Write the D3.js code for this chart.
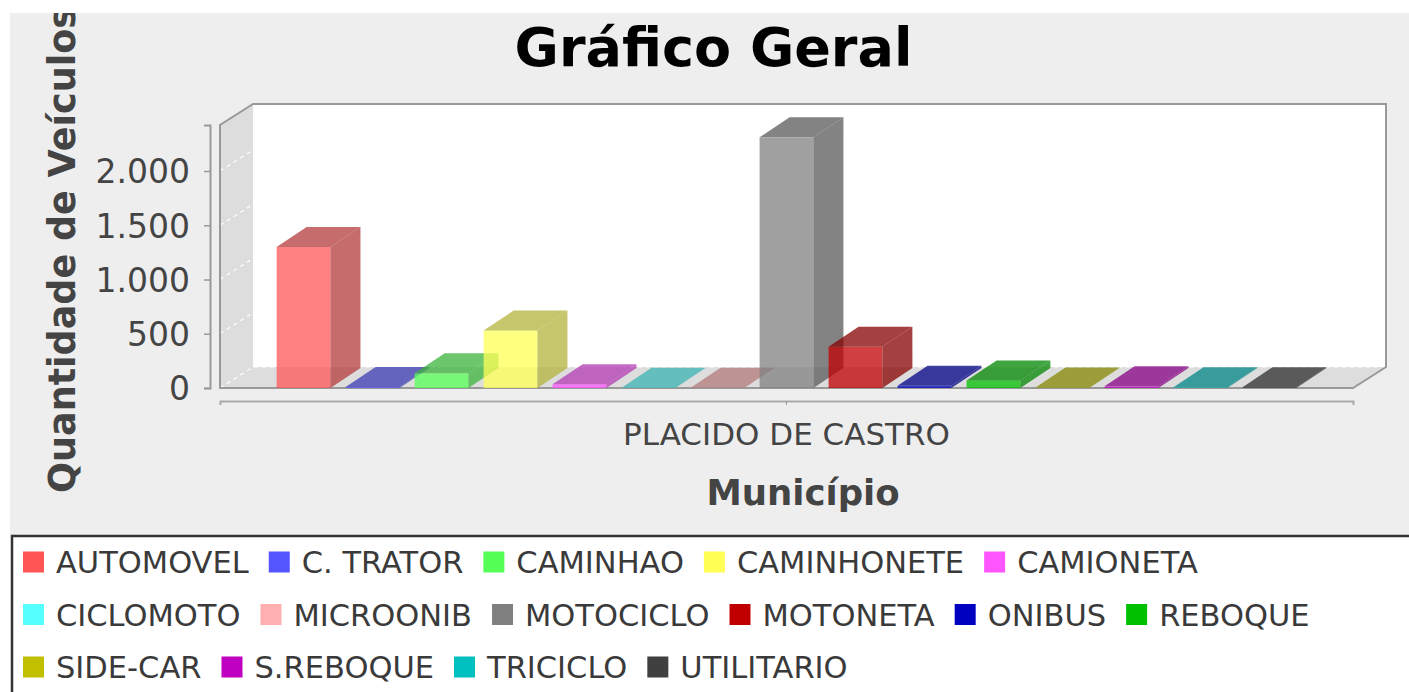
<!DOCTYPE html>
<html>
<head>
<meta charset="utf-8">
<script src="https://cdn.jsdelivr.net/npm/d3@7"></script>
<style>
  html, body { margin: 0; padding: 0; background: #ffffff; }
  svg { display: block; font-family: "DejaVu Sans", sans-serif; }
</style>
</head>
<body>
<script>
// data
const categories = ["PLACIDO DE CASTRO"];
const seriesNames = ["AUTOMOVEL", "C. TRATOR", "CAMINHAO", "CAMINHONETE", "CAMIONETA",
  "CICLOMOTO", "MICROONIB", "MOTOCICLO", "MOTONETA", "ONIBUS", "REBOQUE",
  "SIDE-CAR", "S.REBOQUE", "TRICICLO", "UTILITARIO"];
const seriesValues = [1300, 10, 135, 530, 35, 3, 2, 2310, 380, 20, 70, 4, 15, 6, 8];
const yTicks = [0, 500, 1000, 1500, 2000];
const yMax = 2424;
const palette = ["#ff5555", "#5555ff", "#55ff55", "#ffff55", "#ff55ff", "#55ffff", "#ffafaf",
  "#808080", "#c00000", "#0000c0", "#00c000", "#c0c000", "#c000c0", "#00c0c0", "#404040"];

const W = 1409, H = 692;
// front face of the plot, plus depth offsets of walls and bars
const plotL = 220, plotR = 1353, plotT = 125, plotB = 388;
const wdx = 33, wdy = -21, bdx = 30, bdy = -20;

const svg = d3.select("body").append("svg")
  .attr("width", W).attr("height", H);

svg.append("defs").append("clipPath").attr("id", "chartClip")
  .append("rect").attr("x", 10).attr("y", 13).attr("width", W - 10).attr("height", 522);

const chart = svg.append("g").attr("clip-path", "url(#chartClip)");
chart.append("rect").attr("x", 10).attr("y", 13).attr("width", W - 10).attr("height", 522)
  .attr("fill", "#eeeeee");

// scales
const y = d3.scaleLinear().domain([0, yMax]).range([plotB, plotT]);
const xCat = d3.scaleBand().domain(categories).range([plotL, plotR])
  .paddingInner(0.1).paddingOuter(0.0485);
const xSer = d3.scaleBand().domain(seriesNames).range([0, xCat.bandwidth()])
  .paddingInner(0.22).paddingOuter(0);

const line = d3.line();

// walls
chart.append("path")
  .attr("d", line([[plotL + wdx, plotT + wdy], [plotR + wdx, plotT + wdy], [plotR + wdx, plotB + wdy], [plotL + wdx, plotB + wdy]]) + "Z")
  .attr("fill", "#ffffff");
chart.append("path")
  .attr("d", line([[plotL, plotT], [plotL + wdx, plotT + wdy], [plotL + wdx, plotB + wdy], [plotL, plotB]]) + "Z")
  .attr("fill", "#dddddd");
chart.append("path")
  .attr("d", line([[plotL, plotB], [plotL + wdx, plotB + wdy], [plotR + wdx, plotB + wdy], [plotR, plotB]]) + "Z")
  .attr("fill", "#dddddd");

// gridlines (left wall + back wall)
chart.append("g").selectAll("path").data(yTicks).join("path")
  .attr("d", d => line([[plotL, y(d)], [plotL + wdx, y(d) + wdy], [plotR + wdx, y(d) + wdy]]))
  .attr("fill", "none")
  .attr("stroke", "#ffffff")
  .attr("stroke-width", 1.2)
  .attr("stroke-dasharray", "4,4");

// plot outline
chart.append("path")
  .attr("d", line([[plotL, plotB], [plotL, plotT], [plotL + wdx, plotT + wdy], [plotR + wdx, plotT + wdy],
    [plotR + wdx, plotB + wdy], [plotR, plotB]]) + "Z")
  .attr("fill", "none")
  .attr("stroke", "#999999")
  .attr("stroke-width", 2);

// bars
const bars = chart.append("g");
seriesNames.forEach((s, i) => {
  const x0 = xCat(categories[0]) + xSer(s);
  const x1 = x0 + xSer.bandwidth();
  const yt = y(seriesValues[i]), yb = y(0);
  const base = d3.color(palette[i]);
  const dark = base.darker(1);
  const g = bars.append("g").attr("fill-opacity", 0.75);
  g.append("rect")
    .attr("x", x0).attr("y", yt).attr("width", x1 - x0).attr("height", yb - yt)
    .attr("fill", base.formatHex());
  g.append("path")
    .attr("d", line([[x0, yt], [x0 + bdx, yt + bdy], [x1 + bdx, yt + bdy], [x1, yt]]) + "Z")
    .attr("fill", dark.formatHex());
  g.append("path")
    .attr("d", line([[x1, yt], [x1 + bdx, yt + bdy], [x1 + bdx, yb + bdy], [x1, yb]]) + "Z")
    .attr("fill", dark.formatHex());
});

// value axis
const ptBR = d3.formatLocale({ decimal: ",", thousands: ".", grouping: [3], currency: ["R$", ""] });
const yAxis = d3.axisLeft(y).tickValues(yTicks).tickFormat(ptBR.format(",d"))
  .tickSizeOuter(0).tickSize(6).tickPadding(14);
const yg = chart.append("g").attr("transform", "translate(210,0)").call(yAxis);
yg.select(".domain").attr("stroke", "#999999").attr("stroke-width", 2);
yg.selectAll(".tick line").attr("stroke", "#999999").attr("stroke-width", 1.5);
yg.selectAll(".tick text")
  .attr("font-family", "DejaVu Sans").attr("font-size", 33).attr("fill", "#444444")
  .attr("dy", "0.36em");

// category axis
const xAxis = d3.axisBottom(xCat).tickSizeOuter(0).tickSize(4).tickPadding(18);
const xg = chart.append("g").attr("transform", "translate(0,401)").call(xAxis);
xg.select(".domain").attr("stroke", "#aaaaaa").attr("stroke-width", 2);
xg.selectAll(".tick line").attr("stroke", "#999999");
xg.selectAll(".tick text")
  .attr("font-family", "DejaVu Sans").attr("font-size", 31).attr("fill", "#444444");

// titles
chart.append("text")
  .attr("x", 713.5).attr("y", 66)
  .attr("text-anchor", "middle")
  .attr("font-family", "DejaVu Sans").attr("font-weight", "bold").attr("font-size", 54)
  .attr("fill", "#000000")
  .text("Gráfico Geral");

chart.append("text")
  .attr("x", (plotL + plotR + wdx) / 2).attr("y", 505)
  .attr("text-anchor", "middle")
  .attr("font-family", "DejaVu Sans").attr("font-weight", "bold").attr("font-size", 35.5)
  .attr("fill", "#444444")
  .text("Município");

chart.append("text")
  .attr("transform", "translate(75,250) rotate(-90)")
  .attr("text-anchor", "middle")
  .attr("font-family", "DejaVu Sans").attr("font-weight", "bold").attr("font-size", 36.5)
  .attr("fill", "#444444")
  .text("Quantidade de Veículos");

// legend
svg.append("rect")
  .attr("x", 12).attr("y", 536).attr("width", W + 10).attr("height", 200)
  .attr("fill", "#ffffff").attr("stroke", "#333333").attr("stroke-width", 2.5);

const legend = svg.append("g");
const rowH = 52.5, rowY0 = 562, startX = 23, sq = 21, limit = 1400;
let lx = startX, row = 0;
seriesNames.forEach((s, i) => {
  const t = legend.append("text")
    .attr("font-family", "DejaVu Sans").attr("font-size", 30.5).attr("fill", "#3a3a3a")
    .text(s);
  const tw = t.node().getComputedTextLength();
  if (lx + sq + 13 + tw > limit) { row += 1; lx = startX; }
  const cy = rowY0 + row * rowH;
  legend.append("rect")
    .attr("x", lx).attr("y", cy - sq / 2).attr("width", sq).attr("height", sq)
    .attr("fill", palette[i]);
  t.attr("x", lx + sq + 12).attr("y", cy + 11);
  lx += sq + 12 + tw + 20;
});
</script>
</body>
</html>
